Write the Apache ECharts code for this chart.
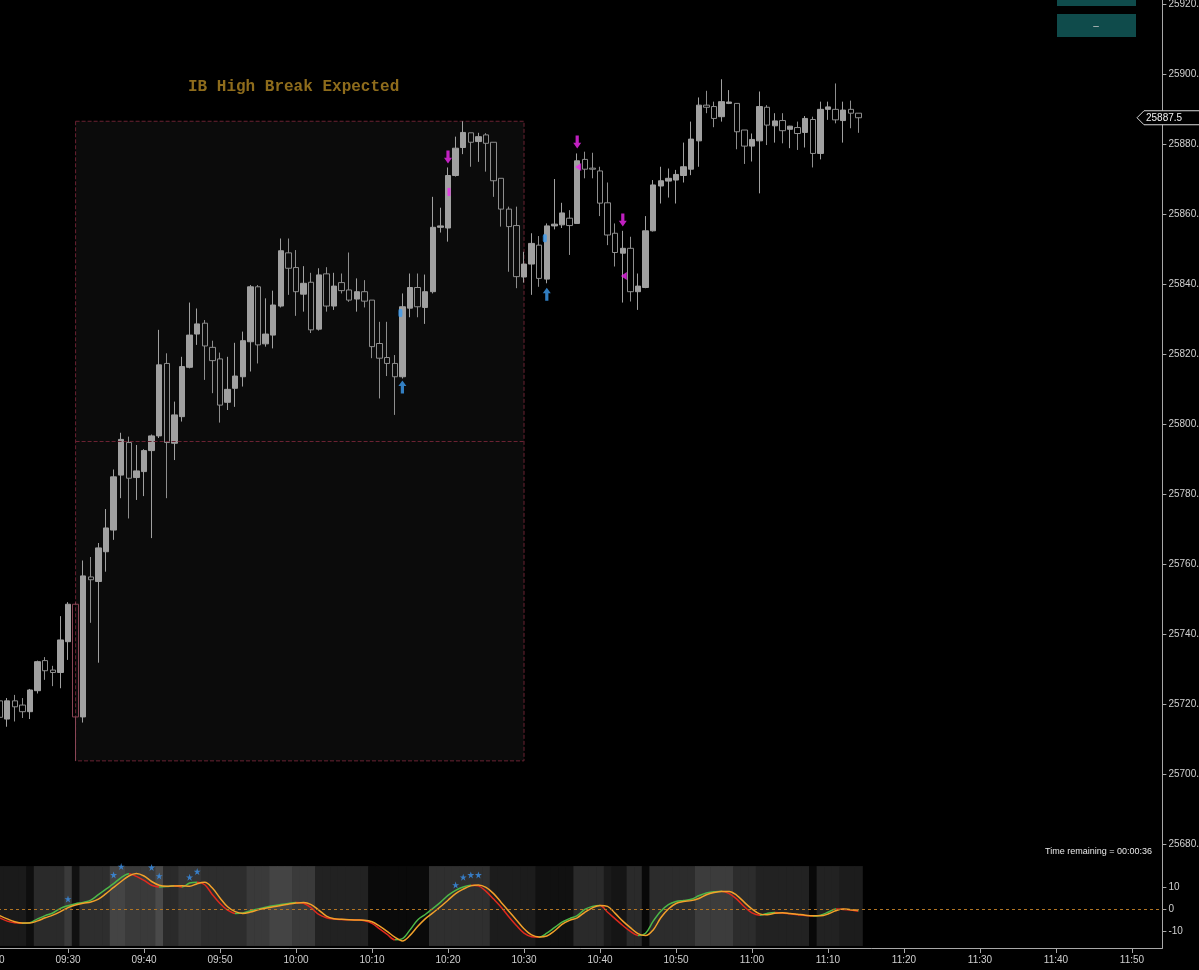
<!DOCTYPE html>
<html>
<head>
<meta charset="utf-8">
<script src="https://cdn.jsdelivr.net/npm/echarts@6/dist/echarts.min.js"></script>
<style>
html,body{margin:0;padding:0;background:#000;}
#c{width:1199px;height:970px;}
</style>
</head>
<body>
<div id="c"></div>
<script>
// ---------------- DATA ----------------
const times = [
'09:21','09:22','09:23','09:24','09:25','09:26','09:27','09:28','09:29',
'09:30','09:31','09:32','09:33','09:34','09:35','09:36','09:37','09:38','09:39',
'09:40','09:41','09:42','09:43','09:44','09:45','09:46','09:47','09:48','09:49',
'09:50','09:51','09:52','09:53','09:54','09:55','09:56','09:57','09:58','09:59',
'10:00','10:01','10:02','10:03','10:04','10:05','10:06','10:07','10:08','10:09',
'10:10','10:11','10:12','10:13','10:14','10:15','10:16','10:17','10:18','10:19',
'10:20','10:21','10:22','10:23','10:24','10:25','10:26','10:27','10:28','10:29',
'10:30','10:31','10:32','10:33','10:34','10:35','10:36','10:37','10:38','10:39',
'10:40','10:41','10:42','10:43','10:44','10:45','10:46','10:47','10:48','10:49',
'10:50','10:51','10:52','10:53','10:54','10:55','10:56','10:57','10:58','10:59',
'11:00','11:01','11:02','11:03','11:04','11:05','11:06','11:07','11:08','11:09',
'11:10','11:11','11:12','11:13','11:14'
];

const opens = [
25720.9,25715.7,25720.9,25719.7,25717.8,25723.8,25732.4,25729.7,25729.0,25737.8,
25748.5,25716.3,25756.3,25755.0,25763.5,25769.7,25785.4,25794.7,25784.7,25786.4,
25792.4,25796.6,25817.3,25794.5,25802.1,25816.2,25825.7,25828.8,25821.9,25818.6,
25806.2,25810.2,25813.5,25823.5,25839.2,25822.9,25825.4,25833.7,25848.9,25844.7,
25837.1,25840.5,25827.1,25842.9,25833.7,25840.4,25838.3,25835.7,25837.8,25835.4,
25823.0,25819.0,25817.3,25813.5,25833.1,25839.0,25833.3,25837.8,25856.2,25856.0,
25871.0,25879.0,25883.2,25880.7,25882.6,25880.5,25870.2,25861.4,25856.7,25842.0,
25845.7,25851.1,25841.4,25856.6,25856.9,25858.8,25857.3,25875.6,25873.1,25872.3,
25863.2,25854.5,25848.8,25850.2,25837.8,25839.0,25855.2,25868.0,25869.4,25869.7,
25871.0,25872.8,25880.9,25891.1,25890.7,25887.8,25891.6,25891.6,25884.0,25879.4,
25880.9,25890.5,25885.2,25886.7,25884.2,25884.7,25883.3,25887.0,25877.3,25889.9,
25889.9,25886.7,25889.9,25888.8
];
const closes = [
25716.2,25720.9,25719.2,25717.8,25724.0,25732.1,25729.5,25729.0,25738.3,25748.5,
25716.3,25756.6,25755.5,25764.6,25770.3,25784.9,25795.6,25784.5,25786.6,25792.4,
25796.6,25816.9,25794.7,25802.6,25816.4,25825.4,25828.6,25822.3,25818.1,25805.4,
25809.9,25813.7,25823.8,25839.2,25822.6,25825.7,25834.0,25849.5,25844.5,25837.8,
25840.2,25826.9,25842.6,25833.7,25839.4,25838.1,25835.4,25837.8,25835.1,25822.1,
25818.8,25817.3,25813.5,25833.5,25839.0,25833.5,25837.8,25856.2,25856.6,25871.0,
25878.8,25883.3,25880.5,25882.1,25880.2,25869.5,25861.4,25856.4,25842.1,25845.7,
25851.6,25841.6,25856.6,25857.1,25860.3,25856.7,25875.2,25872.8,25872.8,25863.1,
25854.0,25849.0,25850.2,25837.8,25839.4,25855.2,25868.3,25869.5,25870.2,25871.3,
25873.5,25881.4,25891.1,25890.5,25887.3,25892.1,25892.0,25883.5,25879.4,25881.3,
25890.7,25885.4,25886.6,25883.8,25885.1,25883.0,25887.3,25877.3,25889.9,25890.6,
25886.9,25889.7,25888.8,25887.5
];
const lows = [
25714.5,25713.5,25715.0,25716.0,25715.7,25723.0,25726.9,25725.1,25724.5,25732.6,
25703.75,25714.7,25743.2,25731.8,25757.8,25766.9,25778.8,25773.0,25778.3,25779.4,
25767.4,25796.0,25778.8,25789.7,25800.7,25815.9,25822.6,25812.6,25808.8,25800.4,
25804.0,25804.9,25810.7,25815.0,25817.3,25822.1,25821.6,25833.3,25836.9,25830.9,
25832.1,25826.0,25826.7,25832.1,25832.6,25837.3,25834.9,25832.1,25833.3,25818.8,
25807.3,25813.7,25802.6,25813.0,25830.5,25830.5,25828.6,25837.3,25854.7,25852.1,
25870.7,25877.1,25873.5,25874.9,25872.1,25864.9,25856.4,25843.5,25838.8,25840.4,
25836.9,25839.2,25840.2,25855.6,25856.0,25848.3,25857.3,25870.2,25870.2,25859.4,
25851.1,25845.0,25834.7,25835.0,25832.6,25838.8,25855.0,25863.0,25864.7,25863.0,
25869.0,25871.1,25873.5,25888.8,25884.8,25886.4,25891.4,25878.5,25874.3,25875.0,
25865.9,25879.7,25880.4,25880.2,25878.8,25878.3,25879.0,25873.3,25875.6,25886.9,
25885.9,25880.4,25884.5,25883.2
];
const highs = [
25722.0,25721.7,25722.6,25721.7,25724.3,25732.4,25733.4,25730.9,25745.1,25749.1,
25749.0,25761.0,25762.0,25766.0,25775.7,25787.0,25797.5,25796.4,25794.0,25792.8,
25797.0,25826.9,25820.2,25806.4,25819.2,25834.7,25833.0,25829.7,25823.8,25820.4,
25819.2,25823.2,25826.4,25839.7,25839.7,25835.9,25838.1,25853.0,25853.0,25849.7,
25845.1,25843.2,25844.5,25844.8,25843.2,25843.0,25849.0,25841.6,25841.1,25835.4,
25829.2,25829.2,25819.7,25837.3,25843.0,25843.0,25842.7,25864.9,25861.8,25873.3,
25882.1,25886.5,25883.2,25883.2,25883.1,25880.5,25870.2,25862.1,25862.1,25849.2,
25854.5,25853.7,25857.3,25870.0,25863.2,25861.1,25877.3,25877.8,25877.5,25873.5,
25869.0,25857.3,25855.2,25853.5,25843.0,25859.4,25869.7,25873.5,25873.0,25872.6,
25880.4,25886.4,25893.3,25895.2,25892.1,25898.5,25895.4,25891.6,25884.0,25883.0,
25895.0,25891.1,25888.8,25888.8,25885.2,25886.4,25888.0,25887.8,25892.1,25892.1,
25897.3,25892.1,25892.4,25888.8
];

// oscillator (fast line, coloured by slope) and its signal line
const osc = [
-4.0,-5.5,-6.3,-6.5,-6.2,-4.5,-3.0,-1.8,0.3,1.5,
2.4,3.0,4.0,6.5,9.0,11.5,14.3,16.0,14.8,13.0,
10.8,10.0,10.2,10.6,10.0,11.8,12.2,11.0,6.5,2.5,
-0.5,-2.0,-1.8,-0.8,0.0,0.8,1.5,2.0,2.5,3.0,
2.6,0.5,-2.5,-4.0,-4.6,-4.8,-4.9,-5.0,-5.3,-6.5,
-9.0,-11.5,-14.0,-13.5,-9.5,-5.0,-2.5,0.2,3.0,6.2,
8.5,10.0,10.8,10.5,8.0,4.5,0.8,-3.5,-7.5,-11.0,
-12.6,-12.8,-11.0,-8.5,-6.0,-4.4,-3.0,-0.2,1.2,1.6,
-1.5,-4.5,-7.5,-10.2,-12.0,-11.0,-5.5,-1.0,2.0,3.4,
3.9,4.4,6.0,7.3,7.8,8.1,7.0,4.5,1.0,-1.8,
-2.8,-2.0,-1.6,-1.8,-2.2,-2.6,-3.0,-3.2,-2.8,-1.5,
0.0,-0.2,-0.5,-1.0
];
const oscSignal = [
-3.0,-4.5,-5.8,-6.4,-6.4,-5.4,-4.0,-2.8,-1.2,0.6,
1.8,2.6,3.2,4.5,7.0,9.8,12.5,15.0,16.1,15.0,
12.5,10.8,10.3,10.5,10.6,10.3,11.5,12.1,9.5,5.0,
1.0,-1.2,-2.0,-1.4,-0.4,0.3,1.0,1.6,2.2,2.7,
3.0,2.0,-0.5,-3.2,-4.4,-4.7,-4.9,-5.0,-5.1,-5.8,
-7.8,-10.2,-12.8,-14.5,-12.0,-8.0,-4.5,-1.8,1.0,4.0,
7.0,9.0,10.5,10.9,9.8,7.0,3.0,-1.0,-5.0,-9.0,
-11.8,-12.7,-12.3,-10.0,-7.0,-5.2,-4.0,-1.5,0.5,1.6,
1.2,-2.0,-5.5,-8.5,-11.2,-12.1,-9.5,-4.0,0.0,2.5,
3.4,3.8,4.8,6.5,7.5,8.0,8.0,6.2,3.0,0.0,
-2.2,-2.6,-1.9,-1.7,-2.0,-2.4,-2.8,-3.1,-3.1,-2.3,
-0.8,0.0,-0.3,-0.5
];
// background intensity of the oscillator pane, per bar (0-255 grey)
const bandLevels = [
26,26,26,26,14,42,42,42,42,58,
17,46,46,46,46,68,68,58,58,58,
58,74,42,42,53,53,53,45,45,45,
45,45,45,58,58,58,68,68,68,58,
58,58,34,34,34,34,34,34,34,10,
10,10,10,10,10,10,10,47,47,47,
47,47,47,47,47,28,28,28,28,28,
28,17,17,17,17,17,42,42,42,42,
26,21,21,42,42,8,44,44,44,44,
44,44,60,60,60,60,60,44,44,44,
34,34,34,34,34,34,34,8,34,34,
34,28,28,28
];

// signals [time, price]
const sigDownArrows = [['10:20',25876.3],['10:37',25880.6],['10:43',25858.3]];
const sigUpArrows   = [['10:14',25810.6],['10:33',25837.1]];
const sigMagentaTicks = [['10:20',25866.3]];
const sigMagentaTriangles = [['10:37',25873.4],['10:43',25842.3]];
const sigBlueTicks = [['10:14',25831.7],['10:33',25853.1]];
// oscillator stars [time, value]
const oscStars = [['09:30',4.5],['09:36',15.5],['09:37',19.3],['09:41',18.9],['09:42',15.0],
  ['09:46',14.4],['09:47',17.0],['10:21',10.9],['10:22',14.4],['10:23',15.5],['10:24',15.5]];

// Initial balance window
const ibStartTime = '09:31';
const ibEndTime = '10:30';

// axis ticks
const timeLabels = ['09:20','09:30','09:40','09:50','10:00','10:10','10:20','10:30','10:40','10:50','11:00','11:10','11:20','11:30','11:40','11:50'];
const axisEndTime = '11:54';
const priceTicks = [25680,25700,25720,25740,25760,25780,25800,25820,25840,25860,25880,25900,25920];
const oscTicks = [-10,0,10];

// texts
const ibText = 'IB High Break Expected';
const timeRemainingText = 'Time remaining = 00:00:36';

// ---------------- BUILD ----------------
function toMin(s){ const p = s.split(':'); return (+p[0])*60 + (+p[1]); }
function fmt(v){ const h = Math.floor(v/60), m = Math.round(v - h*60); return String(h).padStart(2,'0') + ':' + String(m).padStart(2,'0'); }

const xs = times.map(toMin);
const ibX0 = toMin(ibStartTime), ibX1 = toMin(ibEndTime);
let ibHigh = -Infinity, ibLow = Infinity;
xs.forEach((x,i)=>{ if (x>=ibX0 && x<=ibX1){ ibHigh=Math.max(ibHigh,highs[i]); ibLow=Math.min(ibLow,lows[i]); }});
const ibMid = (ibHigh+ibLow)/2;

const candleData = xs.map((x,i)=>{
  const v = [x, opens[i], closes[i], lows[i], highs[i]];
  if (x === ibX0) return {value: v, itemStyle:{borderColor0:'#8a4656', borderColor:'#8a4656'}};
  return v;
});
const pairs = arr => arr.map(d=>[toMin(d[0]), d[1]]);

const GREEN = '#4cb848', RED = '#e0281c', ORANGE = '#f2a12a';
const MAGENTA = '#f028f0', BLUE = '#3d9cf0';
const pieces = [];
for (let i=0;i<xs.length-1;i++){
  const p = {gte: xs[i], color: osc[i+1] >= osc[i] ? GREEN : RED};
  if (i === xs.length-2) p.lte = xs[i+1]; else p.lt = xs[i+1];
  pieces.push(p);
}

const AXIS_COLOR = '#a8a8a8';
const LABEL_COLOR = '#d0d0d0';
const IB_COLOR = '#6a2232';
const FONT = '"Liberation Sans", Arial, sans-serif';
const BAND_TOP = 19.5, BAND_BOTTOM = -16.8;
const xTicks = timeLabels.map(toMin);

const chart = echarts.init(document.getElementById('c'), null, {renderer:'canvas'});
const option = {
  animation: false,
  backgroundColor: '#000',
  grid: [
    {left: -8, right: 36.6, top: 0, height: 862, outerBoundsMode:'none', containLabel:false},
    {left: -8, right: 36.6, top: 862, height: 86, outerBoundsMode:'none', containLabel:false}
  ],
  xAxis: [
    {type:'value', gridIndex:0, min: xTicks[0], max: toMin(axisEndTime), show:false},
    {type:'value', gridIndex:1, min: xTicks[0], max: toMin(axisEndTime),
     axisLine:{show:true, onZero:false, lineStyle:{color:AXIS_COLOR, width:1}},
     axisTick:{show:true, customValues:xTicks, length:5, lineStyle:{color:AXIS_COLOR}},
     axisLabel:{show:true, customValues:xTicks, formatter:v=>fmt(v), color:LABEL_COLOR, fontSize:10, fontFamily:FONT, margin:7},
     splitLine:{show:false}}
  ],
  yAxis: [
    {type:'value', gridIndex:0, position:'right', min:25674.857, max:25921.143,
     axisLine:{show:true, onZero:false, lineStyle:{color:AXIS_COLOR, width:1}},
     axisTick:{show:true, customValues:priceTicks, length:4, lineStyle:{color:AXIS_COLOR}},
     axisLabel:{show:true, customValues:priceTicks, formatter:v=>Number(v).toFixed(1), color:LABEL_COLOR, fontSize:10, fontFamily:FONT, margin:6},
     splitLine:{show:false}},
    {type:'value', gridIndex:1, position:'right', min:-17.73, max:21.36,
     axisLine:{show:true, onZero:false, lineStyle:{color:AXIS_COLOR, width:1}},
     axisTick:{show:true, customValues:oscTicks, length:4, lineStyle:{color:AXIS_COLOR}},
     axisLabel:{show:true, customValues:oscTicks, formatter:v=>String(v), color:LABEL_COLOR, fontSize:10, fontFamily:FONT, margin:6},
     splitLine:{show:false}}
  ],
  visualMap: [{type:'piecewise', show:false, dimension:0, seriesIndex:7, pieces: pieces, outOfRange:{color:GREEN}}],
  series: [
    {type:'candlestick', name:'price', xAxisIndex:0, yAxisIndex:0, barWidth:6, silent:true,
     itemStyle:{color:'#a0a0a0', color0:'rgba(0,0,0,0)', borderColor:'#a0a0a0', borderColor0:'#8e8e8e', borderWidth:1},
     data: candleData,
     markArea:{silent:true, itemStyle:{color:'#0b0b0b', borderColor:IB_COLOR, borderWidth:1, borderType:[4,2]},
       data:[[{coord:[ibX0, ibHigh]},{coord:[ibX1, ibLow]}]]},
     markLine:{silent:true, symbol:'none', label:{show:false}, lineStyle:{color:IB_COLOR, type:[4,2], width:1},
       data:[[{coord:[ibX0, ibMid]},{coord:[ibX1, ibMid]}]]}
    },
    {type:'scatter', xAxisIndex:0, yAxisIndex:0, silent:true, data:pairs(sigDownArrows),
     symbol:'path://M3,0L7,0L7,9L10,9L5,16L0,9L3,9Z', symbolSize:[8,13], itemStyle:{color:MAGENTA}},
    {type:'scatter', xAxisIndex:0, yAxisIndex:0, silent:true, data:pairs(sigUpArrows),
     symbol:'path://M5,0L10,7L7,7L7,16L3,16L3,7L0,7Z', symbolSize:[8,13], itemStyle:{color:BLUE}},
    {type:'scatter', xAxisIndex:0, yAxisIndex:0, silent:true, data:pairs(sigMagentaTicks),
     symbol:'rect', symbolSize:[3,8], symbolOffset:[1,0], itemStyle:{color:MAGENTA}},
    {type:'scatter', xAxisIndex:0, yAxisIndex:0, silent:true, data:pairs(sigMagentaTriangles),
     symbol:'path://M0,5L8,0L8,10Z', symbolSize:[6,8], symbolOffset:[1,0], itemStyle:{color:MAGENTA}},
    {type:'scatter', xAxisIndex:0, yAxisIndex:0, silent:true, data:pairs(sigBlueTicks),
     symbol:'roundRect', symbolSize:[4,8], symbolOffset:[-2,0], itemStyle:{color:BLUE}},
    {type:'custom', xAxisIndex:1, yAxisIndex:1, silent:true, z:1,
     data: xs.map((x,i)=>[x, bandLevels[i]]),
     renderItem(params, api){
       const x = api.value(0), g = api.value(1);
       const p1 = api.coord([x-0.5, BAND_TOP]);
       const p2 = api.coord([x+0.5, BAND_BOTTOM]);
       return {type:'rect', shape:{x:p1[0], y:p1[1], width:p2[0]-p1[0]+0.6, height:p2[1]-p1[1]},
               style:{fill:'rgb('+g+','+g+','+g+')'}};
     },
     markLine:{silent:true, symbol:'none', label:{show:false}, lineStyle:{color:'#b07424', type:[3,3], width:1},
       data:[{yAxis:0}]}
    },
    {type:'line', xAxisIndex:1, yAxisIndex:1, silent:true, showSymbol:false, smooth:0.35,
     lineStyle:{width:1.5}, data: xs.map((x,i)=>[x, osc[i]])},
    {type:'line', xAxisIndex:1, yAxisIndex:1, silent:true, showSymbol:false, smooth:0.35,
     lineStyle:{width:1.5, color:ORANGE}, itemStyle:{color:ORANGE}, data: xs.map((x,i)=>[x, oscSignal[i]])},
    {type:'scatter', xAxisIndex:1, yAxisIndex:1, silent:true, data:pairs(oscStars),
     symbol:'path://M5,0L6.2,3.6L10,3.6L6.9,5.8L8.1,9.5L5,7.2L1.9,9.5L3.1,5.8L0,3.6L3.8,3.6Z',
     symbolSize:7, itemStyle:{color:'#3a90ea'}}
  ]
};
chart.setOption(option);

const lastClose = closes[closes.length-1];
const yTag = chart.convertToPixel({yAxisIndex:0}, lastClose);
chart.setOption({
  graphic: [
    {type:'text', id:'ib', left:188, top:79, style:{text:ibText, fill:'#8e6c1c', font:'bold 16px "Liberation Mono", "Courier New", monospace'}},
    {type:'text', id:'tr', right:47, top:847, style:{text:timeRemainingText, fill:'#e8e8e8', font:'9px ' + FONT}},
    {type:'rect', id:'b1', shape:{x:1057, y:-12, width:79, height:18}, style:{fill:'#0f4b4b'}},
    {type:'rect', id:'b2', shape:{x:1057, y:14, width:79, height:23}, style:{fill:'#0f4b4b'}},
    {type:'text', id:'b2t', x:1096, y:26, style:{text:'–', fill:'#c8c8c8', font:'10px ' + FONT, align:'center', verticalAlign:'middle'}},
    {type:'polygon', id:'tag', shape:{points:[[1137,yTag],[1144,yTag-7],[1210,yTag-7],[1210,yTag+7],[1144,yTag+7]]},
     style:{fill:'#000', stroke:'#d8d8d8', lineWidth:1}, z:100},
    {type:'text', id:'tagt', x:1146, y:yTag, z:101, style:{text:lastClose.toFixed(1), fill:'#f2f2f2', font:'10px ' + FONT, verticalAlign:'middle'}}
  ]
});
</script>
</body>
</html>
